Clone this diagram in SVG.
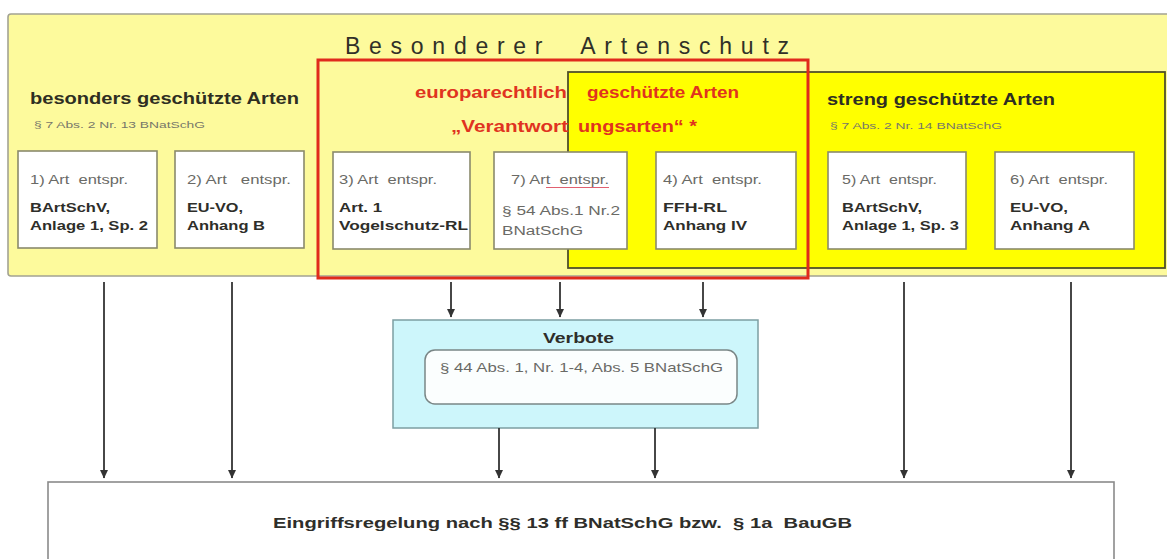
<svg xmlns="http://www.w3.org/2000/svg" width="1167" height="559" viewBox="0 0 1167 559">
<style>
text{font-family:"Liberation Sans",Arial,sans-serif;white-space:pre}
.b{font-weight:bold;fill:#2e2e2a}
.g{fill:#6a6a66}
.ref{font-size:9.5px;fill:#77776a}
.head{font-size:16px;font-weight:bold;fill:#2e2e22}
.red{font-size:16px;font-weight:bold;fill:#e0331f}
.box{fill:#ffffff;stroke:#8a8a6c;stroke-width:1.6}
.l1{font-size:12.5px;fill:#6a6a66}
.l2{font-size:13px;font-weight:bold;fill:#2e2e2a}
.arr{stroke:#333;stroke-width:1.8;fill:none;marker-end:url(#ah)}
</style>
<defs>
<marker id="ah" markerUnits="userSpaceOnUse" markerWidth="9" markerHeight="9" refX="8" refY="4.5" orient="auto" viewBox="0 0 9 9">
<path d="M0,0.5 L8.5,4.5 L0,8.5 Z" fill="#333"/>
</marker>
</defs>

<g id="besonderer-artenschutz">
<rect x="8" y="14" width="1175" height="262" rx="3" fill="#fdfa9c" stroke="#a3a393" stroke-width="1.6"/>
<text x="345" y="54" font-size="23" fill="#303028" letter-spacing="6" textLength="450" lengthAdjust="spacing">Besonderer  Artenschutz</text>
</g>

<g id="streng-geschuetzt">
<rect x="568" y="72" width="597" height="196" fill="#ffff00" stroke="#50502a" stroke-width="1.8"/>
<text class="head" x="827" y="105" textLength="228" lengthAdjust="spacingAndGlyphs">streng geschützte Arten</text>
<text class="ref" x="830" y="129" textLength="172" lengthAdjust="spacingAndGlyphs">§ 7 Abs. 2 Nr. 14 BNatSchG</text>
</g>

<g id="besonders-geschuetzt">
<text class="head" x="30" y="104" textLength="269" lengthAdjust="spacingAndGlyphs">besonders geschützte Arten</text>
<text class="ref" x="34" y="128" textLength="171" lengthAdjust="spacingAndGlyphs">§ 7 Abs. 2 Nr. 13 BNatSchG</text>
</g>

<g id="europarechtlich">
<rect x="318" y="60" width="490" height="218" fill="none" stroke="#e02a1c" stroke-width="3"/>
<text class="red" y="98"><tspan x="415" textLength="152" lengthAdjust="spacingAndGlyphs">europarechtlich</tspan> <tspan x="587" textLength="152" lengthAdjust="spacingAndGlyphs">geschützte Arten</tspan></text>
<text class="red" y="132"><tspan x="451" textLength="117" lengthAdjust="spacingAndGlyphs">„Verantwort</tspan><tspan x="578" textLength="119" lengthAdjust="spacingAndGlyphs">ungsarten“ *</tspan></text>
</g>

<g id="art1">
<rect class="box" x="18" y="151" width="139" height="97"/>
<text class="l1" x="30" y="184" textLength="98" lengthAdjust="spacingAndGlyphs">1) Art  entspr.</text>
<text class="l2" x="30" y="212" textLength="80" lengthAdjust="spacingAndGlyphs">BArtSchV,</text>
<text class="l2" x="30" y="230" textLength="118" lengthAdjust="spacingAndGlyphs">Anlage 1, Sp. 2</text>
</g>
<g id="art2">
<rect class="box" x="175" y="151" width="129" height="97"/>
<text class="l1" x="187" y="184" textLength="104" lengthAdjust="spacingAndGlyphs">2) Art   entspr.</text>
<text class="l2" x="187" y="212" textLength="56" lengthAdjust="spacingAndGlyphs">EU-VO,</text>
<text class="l2" x="187" y="230" textLength="78" lengthAdjust="spacingAndGlyphs">Anhang B</text>
</g>
<g id="art3">
<rect class="box" x="333" y="152" width="137" height="97"/>
<text class="l1" x="339" y="184" textLength="98" lengthAdjust="spacingAndGlyphs">3) Art  entspr.</text>
<text class="l2" x="339" y="212" textLength="43" lengthAdjust="spacingAndGlyphs">Art. 1</text>
<text class="l2" x="339" y="230" textLength="129" lengthAdjust="spacingAndGlyphs">Vogelschutz-RL</text>
</g>
<g id="art7">
<rect class="box" x="494" y="152" width="133" height="97"/>
<text class="l1" x="511" y="184" textLength="98" lengthAdjust="spacingAndGlyphs">7) Art  entspr.</text>
<line x1="546" y1="187.5" x2="609" y2="187.5" stroke="#e06070" stroke-width="1"/>
<text class="l1" x="502" y="215" font-size="13" textLength="118" lengthAdjust="spacingAndGlyphs">§ 54 Abs.1 Nr.2</text>
<text class="l1" x="502" y="235" font-size="13" textLength="81" lengthAdjust="spacingAndGlyphs">BNatSchG</text>
</g>
<g id="art4">
<rect class="box" x="656" y="152" width="140" height="97"/>
<text class="l1" x="663" y="184" textLength="99" lengthAdjust="spacingAndGlyphs">4) Art  entspr.</text>
<text class="l2" x="663" y="212" textLength="64" lengthAdjust="spacingAndGlyphs">FFH-RL</text>
<text class="l2" x="663" y="230" textLength="84" lengthAdjust="spacingAndGlyphs">Anhang IV</text>
</g>
<g id="art5">
<rect class="box" x="828" y="152" width="138" height="97"/>
<text class="l1" x="842" y="184" textLength="95" lengthAdjust="spacingAndGlyphs">5) Art  entspr.</text>
<text class="l2" x="842" y="212" textLength="80" lengthAdjust="spacingAndGlyphs">BArtSchV,</text>
<text class="l2" x="842" y="230" textLength="117" lengthAdjust="spacingAndGlyphs">Anlage 1, Sp. 3</text>
</g>
<g id="art6">
<rect class="box" x="995" y="152" width="139" height="97"/>
<text class="l1" x="1010" y="184" textLength="98" lengthAdjust="spacingAndGlyphs">6) Art  entspr.</text>
<text class="l2" x="1010" y="212" textLength="58" lengthAdjust="spacingAndGlyphs">EU-VO,</text>
<text class="l2" x="1010" y="230" textLength="80" lengthAdjust="spacingAndGlyphs">Anhang A</text>
</g>

<g id="verbote">
<rect x="393" y="320" width="365" height="108" fill="#cdf6fb" stroke="#7c9ea2" stroke-width="1.5"/>
<text class="b" x="543" y="343" font-size="15" textLength="71" lengthAdjust="spacingAndGlyphs">Verbote</text>
<rect x="425" y="350" width="312" height="54" rx="10" fill="#fbfefe" stroke="#7a8686" stroke-width="1.5"/>
<text class="g" x="440" y="372" font-size="13" textLength="283" lengthAdjust="spacingAndGlyphs">§ 44 Abs. 1, Nr. 1-4, Abs. 5 BNatSchG</text>
</g>

<g id="eingriffsregelung">
<rect x="48" y="482" width="1066" height="100" fill="#ffffff" stroke="#8a8a8a" stroke-width="1.6"/>
<text class="b" x="273" y="528" font-size="15.5" textLength="579" lengthAdjust="spacingAndGlyphs">Eingriffsregelung nach §§ 13 ff BNatSchG bzw.  § 1a  BauGB</text>
</g>

<g id="connectors">
<line class="arr" x1="104" y1="282" x2="104" y2="478"/>
<line class="arr" x1="232" y1="282" x2="232" y2="478"/>
<line class="arr" x1="904" y1="282" x2="904" y2="478"/>
<line class="arr" x1="1071" y1="282" x2="1071" y2="478"/>
<line class="arr" x1="451" y1="282" x2="451" y2="317"/>
<line class="arr" x1="560" y1="282" x2="560" y2="317"/>
<line class="arr" x1="703" y1="282" x2="703" y2="317"/>
<line class="arr" x1="499" y1="428" x2="499" y2="478"/>
<line class="arr" x1="655" y1="428" x2="655" y2="478"/>
</g>
</svg>
